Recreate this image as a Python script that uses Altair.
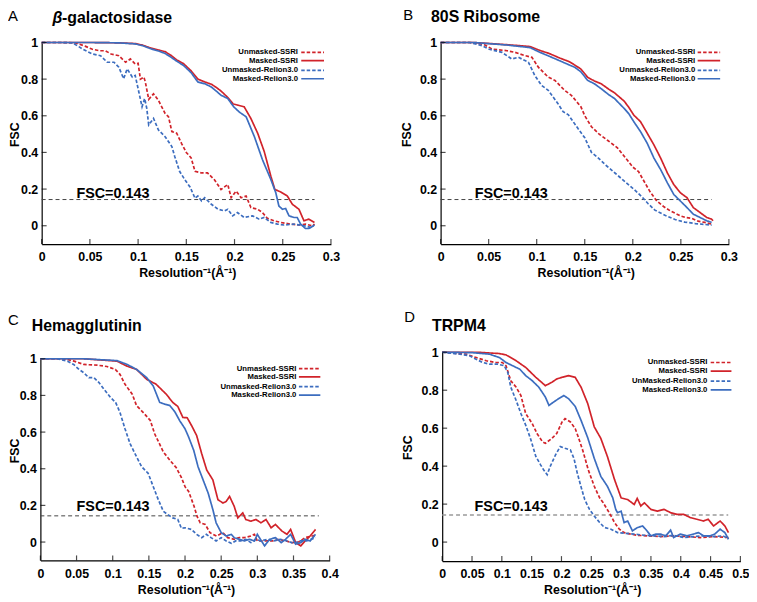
import altair as alt
import pandas as pd

FONT = "Liberation Sans"
SERIES = ["Unmasked-SSRI", "Masked-SSRI", "Unmasked-Relion3.0", "Masked-Relion3.0"]
RED = "#d1232a"
BLUE = "#3c6dbf"
SERIES_COLORS = [RED, RED, BLUE, BLUE]
SERIES_DASH = [[3.5, 2], [1, 0], [3.5, 2], [1, 0]]

Y_TICKS = [0, 0.2, 0.4, 0.6, 0.8, 1]
X_TICKS_03 = [0, 0.05, 0.1, 0.15, 0.2, 0.25, 0.3]
X_TICKS_04 = [0, 0.05, 0.1, 0.15, 0.2, 0.25, 0.3, 0.35, 0.4]
X_TICKS_05 = [0, 0.05, 0.1, 0.15, 0.2, 0.25, 0.3, 0.35, 0.4, 0.45, 0.5]

LEGEND_A = ["Unmasked-SSRI", "Masked-SSRI", "Unmasked-Relion3.0", "Masked-Relion3.0"]
LEGEND_D = ["Unmasked-SSRI", "Masked-SSRI", "UnMasked-Relion3.0", "Masked-Relion3.0"]

# ---------------- Panel A: beta-galactosidase ----------------
A_unm_ssri = [(0, 1.0), (0.02, 1.0), (0.035, 0.998), (0.045, 0.98), (0.052, 0.964), (0.060, 0.955),
              (0.066, 0.955), (0.072, 0.937), (0.080, 0.928), (0.087, 0.892), (0.092, 0.91), (0.097, 0.883),
              (0.100, 0.886), (0.1024, 0.80), (0.106, 0.811), (0.1075, 0.784), (0.111, 0.69), (0.116, 0.72),
              (0.121, 0.685), (0.128, 0.613), (0.1315, 0.595), (0.135, 0.514), (0.140, 0.505), (0.145, 0.45),
              (0.150, 0.40), (0.155, 0.37), (0.159, 0.297), (0.166, 0.288), (0.172, 0.288), (0.179, 0.252),
              (0.186, 0.198), (0.193, 0.225), (0.1965, 0.153), (0.2016, 0.189), (0.2068, 0.153), (0.212, 0.162),
              (0.217, 0.099), (0.224, 0.09), (0.229, 0.072), (0.234, 0.04), (0.241, 0.027), (0.248, 0.018),
              (0.258, 0.009), (0.267, 0.004), (0.2736, 0.009), (0.2805, 0.0), (0.283, 0.009)]
A_m_ssri = [(0, 1.0), (0.05, 1.0), (0.08, 0.998), (0.097, 0.994), (0.105, 0.985), (0.114, 0.968),
            (0.122, 0.958), (0.128, 0.95), (0.134, 0.93), (0.140, 0.905), (0.147, 0.885), (0.155, 0.845),
            (0.162, 0.80), (0.169, 0.785), (0.176, 0.772), (0.181, 0.755), (0.186, 0.735), (0.193, 0.70),
            (0.1985, 0.665), (0.2034, 0.658), (0.210, 0.649), (0.217, 0.585), (0.224, 0.505), (0.2308, 0.405),
            (0.2377, 0.27), (0.2418, 0.198), (0.248, 0.184), (0.2548, 0.162), (0.260, 0.117), (0.2668, 0.09),
            (0.272, 0.027), (0.277, 0.036), (0.2829, 0.018)]
A_unm_relion = [(0, 1.0), (0.02, 1.0), (0.032, 0.998), (0.0425, 0.964), (0.0527, 0.937), (0.061, 0.928),
                (0.068, 0.892), (0.075, 0.892), (0.080, 0.865), (0.085, 0.802), (0.0887, 0.856), (0.094, 0.811),
                (0.097, 0.82), (0.100, 0.748), (0.1041, 0.649), (0.1068, 0.694), (0.109, 0.64), (0.111, 0.55),
                (0.116, 0.586), (0.121, 0.523), (0.128, 0.486), (0.135, 0.432), (0.138, 0.378), (0.143, 0.297),
                (0.1486, 0.25), (0.154, 0.21), (0.159, 0.15), (0.162, 0.162), (0.1658, 0.135), (0.169, 0.153),
                (0.176, 0.117), (0.183, 0.09), (0.1897, 0.081), (0.193, 0.09), (0.198, 0.054), (0.203, 0.072),
                (0.210, 0.045), (0.2188, 0.054), (0.2255, 0.036), (0.2307, 0.045), (0.2376, 0.018), (0.2445, 0.009),
                (0.2513, 0.004), (0.2616, 0.009), (0.272, 0.0), (0.279, -0.009), (0.283, 0.004)]
A_m_relion = [(0, 1.0), (0.05, 1.0), (0.08, 0.998), (0.097, 0.992), (0.105, 0.982), (0.114, 0.964),
              (0.122, 0.952), (0.128, 0.94), (0.134, 0.92), (0.140, 0.898), (0.147, 0.875), (0.155, 0.835),
              (0.162, 0.784), (0.169, 0.775), (0.176, 0.757), (0.181, 0.735), (0.186, 0.712), (0.193, 0.694),
              (0.199, 0.65), (0.205, 0.62), (0.212, 0.595), (0.2206, 0.486), (0.229, 0.36), (0.2377, 0.252),
              (0.2428, 0.18), (0.246, 0.108), (0.2497, 0.09), (0.253, 0.094), (0.2565, 0.054), (0.2617, 0.045),
              (0.265, 0.045), (0.2685, 0.009), (0.2736, -0.015), (0.277, -0.015), (0.282, 0.0)]

# ---------------- Panel B: 80S Ribosome ----------------
B_unm_ssri = [(0, 1.0), (0.03, 1.0), (0.045, 0.99), (0.0536, 0.964), (0.069, 0.955), (0.0776, 0.946),
              (0.088, 0.928), (0.095, 0.919), (0.1017, 0.865), (0.112, 0.811), (0.119, 0.793), (0.129, 0.739),
              (0.136, 0.712), (0.146, 0.649), (0.150, 0.60), (0.157, 0.54), (0.165, 0.50), (0.174, 0.465),
              (0.184, 0.425), (0.194, 0.36), (0.200, 0.32), (0.206, 0.295), (0.212, 0.24), (0.218, 0.185),
              (0.225, 0.135), (0.232, 0.105), (0.239, 0.081), (0.2495, 0.054), (0.255, 0.045), (0.261, 0.041),
              (0.268, 0.025), (0.275, 0.018), (0.282, 0.009)]
B_m_ssri = [(0, 1.0), (0.034, 1.0), (0.069, 0.988), (0.093, 0.978), (0.103, 0.957), (0.113, 0.94),
            (0.124, 0.915), (0.134, 0.895), (0.1395, 0.877), (0.146, 0.855), (0.153, 0.81), (0.160, 0.79),
            (0.167, 0.775), (0.175, 0.745), (0.181, 0.725), (0.191, 0.68), (0.196, 0.645), (0.201, 0.604),
            (0.208, 0.568), (0.215, 0.505), (0.222, 0.441), (0.229, 0.369), (0.236, 0.288), (0.2426, 0.225),
            (0.2495, 0.18), (0.2564, 0.153), (0.263, 0.099), (0.270, 0.072), (0.277, 0.045), (0.282, 0.036),
            (0.2835, 0.027)]
B_unm_relion = [(0, 1.0), (0.03, 1.0), (0.0433, 0.982), (0.050, 0.964), (0.0639, 0.946), (0.074, 0.91),
                (0.081, 0.919), (0.0914, 0.892), (0.098, 0.82), (0.105, 0.766), (0.112, 0.739), (0.122, 0.667),
                (0.1275, 0.622), (0.133, 0.605), (0.143, 0.53), (0.150, 0.48), (0.157, 0.40), (0.163, 0.375),
                (0.172, 0.33), (0.182, 0.285), (0.192, 0.24), (0.203, 0.19), (0.210, 0.155), (0.216, 0.12),
                (0.223, 0.085), (0.234, 0.056), (0.244, 0.034), (0.254, 0.02), (0.265, 0.012), (0.275, 0.007),
                (0.282, 0.003)]
B_m_relion = [(0, 1.0), (0.034, 1.0), (0.069, 0.986), (0.093, 0.972), (0.103, 0.947), (0.113, 0.925),
              (0.124, 0.9), (0.134, 0.877), (0.1395, 0.865), (0.146, 0.84), (0.153, 0.793), (0.160, 0.775),
              (0.167, 0.748), (0.175, 0.715), (0.181, 0.694), (0.191, 0.64), (0.196, 0.61), (0.201, 0.568),
              (0.208, 0.514), (0.215, 0.45), (0.222, 0.369), (0.229, 0.306), (0.236, 0.234), (0.2426, 0.171),
              (0.2495, 0.135), (0.2564, 0.099), (0.263, 0.063), (0.270, 0.045), (0.277, 0.027), (0.282, 0.018)]

# ---------------- Panel C: Hemagglutinin ----------------
C_unm_ssri = [(0, 1.0), (0.03, 1.0), (0.0374, 0.996), (0.0466, 0.987), (0.060, 0.969), (0.0785, 0.965),
              (0.092, 0.958), (0.1036, 0.942), (0.110, 0.915), (0.117, 0.861), (0.127, 0.807), (0.133, 0.744),
              (0.142, 0.708), (0.152, 0.663), (0.158, 0.591), (0.170, 0.492), (0.179, 0.447), (0.188, 0.405),
              (0.195, 0.352), (0.200, 0.302), (0.205, 0.276), (0.2125, 0.195), (0.2166, 0.141), (0.221, 0.105),
              (0.228, 0.096), (0.2345, 0.051), (0.2435, 0.033), (0.2525, 0.051), (0.259, 0.024), (0.268, 0.015),
              (0.275, 0.024), (0.282, 0.024), (0.291, 0.033), (0.296, 0.042), (0.300, 0.006), (0.313, 0.006),
              (0.322, 0.006), (0.330, 0.015), (0.339, 0.006), (0.348, -0.003), (0.357, 0.0), (0.366, 0.024),
              (0.3805, 0.037)]
C_m_ssri = [(0, 1.0), (0.06, 1.0), (0.106, 0.987), (0.1196, 0.96), (0.133, 0.942), (0.147, 0.888),
            (0.160, 0.861), (0.174, 0.807), (0.183, 0.762), (0.190, 0.74), (0.197, 0.68), (0.203, 0.678),
            (0.209, 0.636), (0.216, 0.582), (0.223, 0.483), (0.230, 0.393), (0.2385, 0.339), (0.2455, 0.231),
            (0.2525, 0.213), (0.257, 0.222), (0.2616, 0.249), (0.268, 0.195), (0.273, 0.132), (0.2799, 0.159),
            (0.284, 0.123), (0.291, 0.114), (0.298, 0.123), (0.305, 0.105), (0.312, 0.123), (0.319, 0.078),
            (0.325, 0.096), (0.334, 0.06), (0.341, 0.042), (0.346, 0.069), (0.353, -0.003), (0.360, -0.021),
            (0.366, 0.006), (0.373, 0.033), (0.3805, 0.069)]
C_unm_relion = [(0, 1.0), (0.024, 1.0), (0.0374, 0.987), (0.046, 0.969), (0.0534, 0.942), (0.060, 0.924),
                (0.067, 0.897), (0.074, 0.897), (0.081, 0.87), (0.088, 0.834), (0.097, 0.789), (0.104, 0.762),
                (0.110, 0.708), (0.117, 0.618), (0.124, 0.537), (0.133, 0.465), (0.140, 0.411), (0.149, 0.375),
                (0.156, 0.303), (0.163, 0.231), (0.170, 0.168), (0.176, 0.15), (0.183, 0.132), (0.190, 0.123),
                (0.195, 0.075), (0.200, 0.078), (0.209, 0.069), (0.216, 0.042), (0.223, 0.024), (0.2295, 0.042),
                (0.236, 0.024), (0.243, 0.006), (0.250, 0.024), (0.257, 0.006), (0.264, -0.007), (0.270, 0.006),
                (0.277, 0.006), (0.284, 0.015), (0.291, -0.003), (0.298, 0.015), (0.305, 0.006), (0.314, 0.015),
                (0.322, 0.006), (0.332, 0.015), (0.341, 0.006), (0.350, -0.007), (0.359, 0.006), (0.368, 0.006),
                (0.3805, 0.024)]
C_m_relion = [(0, 1.0), (0.06, 1.0), (0.106, 0.99), (0.120, 0.969), (0.133, 0.942), (0.147, 0.897),
              (0.156, 0.852), (0.165, 0.762), (0.172, 0.752), (0.179, 0.745), (0.186, 0.71), (0.193, 0.66),
              (0.200, 0.618), (0.205, 0.573), (0.212, 0.501), (0.218, 0.411), (0.225, 0.339), (0.232, 0.267),
              (0.2385, 0.177), (0.243, 0.105), (0.250, 0.051), (0.257, 0.033), (0.264, 0.042), (0.268, 0.024),
              (0.275, 0.015), (0.282, 0.006), (0.289, 0.015), (0.296, 0.006), (0.300, 0.042), (0.310, -0.021),
              (0.317, 0.015), (0.325, 0.024), (0.333, -0.003), (0.339, 0.015), (0.346, 0.042), (0.353, -0.012),
              (0.360, -0.003), (0.366, 0.015), (0.373, 0.006), (0.3805, 0.042)]

# ---------------- Panel D: TRPM4 ----------------
D_unm_ssri = [(0, 1.0), (0.04, 0.99), (0.057, 0.972), (0.074, 0.955), (0.090, 0.946), (0.101, 0.946),
              (0.107, 0.929), (0.115, 0.85), (0.124, 0.816), (0.132, 0.772), (0.140, 0.677), (0.151, 0.624),
              (0.159, 0.572), (0.168, 0.529), (0.173, 0.52), (0.184, 0.546), (0.192, 0.572), (0.201, 0.633),
              (0.206, 0.65), (0.215, 0.633), (0.223, 0.598), (0.228, 0.555), (0.236, 0.48), (0.245, 0.38),
              (0.255, 0.294), (0.264, 0.233), (0.270, 0.207), (0.280, 0.155), (0.289, 0.103), (0.297, 0.068),
              (0.305, 0.05), (0.316, 0.042), (0.327, 0.036), (0.344, 0.033), (0.366, 0.029), (0.388, 0.033),
              (0.410, 0.029), (0.433, 0.024), (0.455, 0.029), (0.480, 0.024)]
D_m_ssri = [(0, 1.0), (0.06, 1.0), (0.096, 0.993), (0.107, 0.986), (0.124, 0.955), (0.140, 0.92),
            (0.157, 0.868), (0.173, 0.824), (0.184, 0.842), (0.192, 0.859), (0.201, 0.868), (0.212, 0.877),
            (0.223, 0.868), (0.233, 0.815), (0.244, 0.73), (0.255, 0.607), (0.266, 0.546), (0.277, 0.451),
            (0.289, 0.329), (0.300, 0.233), (0.311, 0.224), (0.322, 0.198), (0.327, 0.23), (0.333, 0.19),
            (0.339, 0.207), (0.350, 0.172), (0.361, 0.163), (0.372, 0.172), (0.383, 0.155), (0.394, 0.146),
            (0.405, 0.146), (0.416, 0.129), (0.427, 0.12), (0.438, 0.111), (0.446, 0.12), (0.455, 0.085),
            (0.466, 0.111), (0.474, 0.085), (0.480, 0.05)]
D_unm_relion = [(0, 1.0), (0.0294, 0.99), (0.046, 0.981), (0.057, 0.963), (0.068, 0.946), (0.079, 0.937),
                (0.093, 0.937), (0.104, 0.929), (0.110, 0.894), (0.115, 0.816), (0.124, 0.746), (0.132, 0.677),
                (0.140, 0.616), (0.148, 0.546), (0.157, 0.451), (0.165, 0.407), (0.170, 0.381), (0.176, 0.355),
                (0.181, 0.398), (0.190, 0.459), (0.198, 0.503), (0.206, 0.494), (0.215, 0.485), (0.221, 0.44),
                (0.226, 0.37), (0.232, 0.30), (0.239, 0.224), (0.247, 0.172), (0.255, 0.137), (0.264, 0.103),
                (0.272, 0.077), (0.283, 0.068), (0.294, 0.05), (0.305, 0.047), (0.322, 0.042), (0.339, 0.036),
                (0.355, 0.033), (0.372, 0.029), (0.388, 0.036), (0.405, 0.024), (0.421, 0.029), (0.438, 0.033),
                (0.455, 0.029), (0.471, 0.033), (0.480, 0.016)]
D_m_relion = [(0, 1.0), (0.05, 0.998), (0.079, 0.99), (0.096, 0.972), (0.107, 0.946), (0.118, 0.929),
              (0.130, 0.911), (0.140, 0.877), (0.151, 0.85), (0.162, 0.816), (0.173, 0.764), (0.179, 0.72),
              (0.187, 0.738), (0.195, 0.755), (0.204, 0.772), (0.212, 0.755), (0.223, 0.715), (0.233, 0.64),
              (0.244, 0.55), (0.255, 0.441), (0.266, 0.346), (0.277, 0.294), (0.286, 0.233), (0.291, 0.172),
              (0.294, 0.155), (0.300, 0.163), (0.305, 0.103), (0.311, 0.111), (0.319, 0.059), (0.327, 0.076),
              (0.336, 0.085), (0.341, 0.068), (0.350, 0.033), (0.358, 0.042), (0.366, 0.042), (0.375, 0.033),
              (0.383, 0.063), (0.388, 0.024), (0.399, 0.042), (0.410, 0.033), (0.421, 0.042), (0.430, 0.05),
              (0.438, 0.033), (0.449, 0.033), (0.457, 0.042), (0.466, 0.068), (0.474, 0.05), (0.480, 0.016)]

FSC_THRESHOLD = 0.143

# ---------------- layout (pixels / style) ----------------
W, H = 748, 592
PANELS = [
    dict(letter="A", title="-galactosidase", beta=True, xdom=[0, 0.3], xticks=X_TICKS_03,
         xr=[34, 326], yr=[235.5, 32], curves=[A_unm_ssri, A_m_ssri, A_unm_relion, A_m_relion],
         ref_end=0.283, ref_color="#444444", ref_w=1.0, lab_xy=(0.036, 0.151),
         leg_labels=LEGEND_A, leg_tx=0.2658, leg_l=(0.2692, 0.2928),
         letter_xy=(0, 10.5), title_xy=(45, 12.5), ytitle_dx=-23.5),
    dict(letter="B", title="80S Ribosome", beta=False, xdom=[0, 0.3], xticks=X_TICKS_03,
         xr=[436.7, 727.7], yr=[235.5, 32], curves=[B_unm_ssri, B_m_ssri, B_unm_relion, B_m_relion],
         ref_end=0.282, ref_color="#444444", ref_w=1.0, lab_xy=(0.0354, 0.151),
         leg_labels=LEGEND_A, leg_tx=0.265, leg_l=(0.2675, 0.2909),
         letter_xy=(399, 9.5), title_xy=(427, 11.5), ytitle_dx=-30.5),
    dict(letter="C", title="Hemagglutinin", beta=False, xdom=[0, 0.4], xticks=X_TICKS_04,
         xr=[32.7, 324.7], yr=[554.8, 351.3], curves=[C_unm_ssri, C_m_ssri, C_unm_relion, C_m_relion],
         ref_end=0.385, ref_color="#444444", ref_w=1.0, lab_xy=(0.050, 0.168),
         leg_labels=LEGEND_A, leg_tx=0.354, leg_l=(0.3575, 0.3871),
         letter_xy=(0, 317), title_xy=(24, 323.7), ytitle_dx=-22.5),
    dict(letter="D", title="TRPM4", beta=False, xdom=[0, 0.5], xticks=X_TICKS_05,
         xr=[438.3, 739.3], yr=[555.5, 344.7], curves=[D_unm_ssri, D_m_ssri, D_unm_relion, D_m_relion],
         ref_end=0.4796, ref_color="#9a9a9a", ref_w=1.5, lab_xy=(0.0543, 0.163),
         leg_labels=LEGEND_D, leg_tx=0.4447, leg_l=(0.4502, 0.4850),
         letter_xy=(400, 313.7), title_xy=(428, 323.7), ytitle_dx=-30.5),
]
LEGEND_ROWS = [0.946, 0.901, 0.848, 0.802]

color_enc = alt.Color("series:N", scale=alt.Scale(domain=SERIES, range=SERIES_COLORS), legend=None)
dash_enc = alt.StrokeDash("series:N", scale=alt.Scale(domain=SERIES, range=SERIES_DASH), legend=None)


def text_layer(txt, x, y, size, weight="bold", style="normal"):
    return alt.Chart(pd.DataFrame({"t": [txt]})).mark_text(
        align="left", baseline="alphabetic", font=FONT, fontSize=size,
        fontWeight=weight, fontStyle=style, color="black"
    ).encode(text="t:N", x=alt.value(x), y=alt.value(y))


def panel_layers(p):
    xs = alt.Scale(domain=p["xdom"], range=p["xr"], nice=False, zero=False)
    ys = alt.Scale(domain=[-0.1, 1.0], range=p["yr"], nice=False, zero=False)

    def X(f, axis=None):
        return alt.X(f, scale=xs, axis=axis)

    def Y(f, axis=None):
        return alt.Y(f, scale=ys, axis=axis)

    rows = []
    for name, pts in zip(SERIES, p["curves"]):
        for x, y in pts:
            rows.append({"x": x, "y": y, "series": name})
    df = pd.DataFrame(rows)

    y_mid = p["yr"][0] - (0.6 / 1.1) * (p["yr"][0] - p["yr"][1])
    x_axis = alt.Axis(
        orient="bottom", offset=p["yr"][0] - H, values=p["xticks"], format="~g",
        ticks=False, tickSize=0, grid=False, domainColor="black", domainWidth=1.2,
        labelFont=FONT, labelFontSize=12.5, labelFontWeight="bold", labelColor="black",
        labelPadding=7, labelFlush=False, labelOverlap=False,
        title="Resolution⁻¹(Å⁻¹)", titleFont=FONT, titleFontSize=12.5, titleFontWeight="bold",
        titleColor="black", titleX=(p["xr"][0] + p["xr"][1]) / 2 + 1, titleY=33,
        titleBaseline="alphabetic", titleAlign="center",
    )
    y_axis = alt.Axis(
        orient="left", offset=-p["xr"][0], values=Y_TICKS, format="~g",
        ticks=False, tickSize=0, grid=False, domainColor="black", domainWidth=1.2,
        labelFont=FONT, labelFontSize=12.5, labelFontWeight="bold", labelColor="black",
        labelPadding=4, labelFlush=False, labelOverlap=False,
        title="FSC", titleFont=FONT, titleFontSize=12.5, titleFontWeight="bold",
        titleColor="black", titleX=p["ytitle_dx"], titleY=y_mid, titleAngle=270,
        titleBaseline="alphabetic", titleAlign="center",
    )

    lines = alt.Chart(df).mark_line(strokeWidth=1.7).encode(
        x=X("x:Q", x_axis), y=Y("y:Q", y_axis), color=color_enc, strokeDash=dash_enc
    )

    ref_df = pd.DataFrame({"x0": [0.0], "x1": [p["ref_end"]], "y": [FSC_THRESHOLD]})
    ref = alt.Chart(ref_df).mark_rule(
        color=p["ref_color"], strokeWidth=p["ref_w"], strokeDash=[4, 3]
    ).encode(x=X("x0:Q"), x2="x1:Q", y=Y("y:Q"))

    lab_df = pd.DataFrame({"x": [p["lab_xy"][0]], "y": [p["lab_xy"][1]], "t": ["FSC=0.143"]})
    lab = alt.Chart(lab_df).mark_text(
        align="left", baseline="alphabetic", font=FONT, fontSize=14.5, fontWeight="bold", color="black"
    ).encode(x=X("x:Q"), y=Y("y:Q"), text="t:N")

    xt_df = pd.DataFrame({"x": p["xticks"], "y": [-0.1] * len(p["xticks"])})
    xticks = alt.Chart(xt_df).mark_tick(
        orient="vertical", size=5, thickness=1.2, yOffset=-2.5, color="black"
    ).encode(x=X("x:Q"), y=Y("y:Q"))
    yt_df = pd.DataFrame({"x": [0.0] * len(Y_TICKS), "y": Y_TICKS})
    yticks = alt.Chart(yt_df).mark_tick(
        orient="horizontal", size=5, thickness=1.2, xOffset=2.5, color="black"
    ).encode(x=X("x:Q"), y=Y("y:Q"))

    leg_df = pd.DataFrame({
        "series": SERIES, "label": p["leg_labels"], "y": LEGEND_ROWS,
        "xt": [p["leg_tx"]] * 4, "x0": [p["leg_l"][0]] * 4, "x1": [p["leg_l"][1]] * 4,
    })
    leg_text = alt.Chart(leg_df).mark_text(
        align="right", baseline="middle", font=FONT, fontSize=7.8, fontWeight="bold", color="black"
    ).encode(x=X("xt:Q"), y=Y("y:Q"), text="label:N")
    leg_lines = alt.Chart(leg_df).mark_rule(strokeWidth=1.7).encode(
        x=X("x0:Q"), x2="x1:Q", y=Y("y:Q"), color=color_enc, strokeDash=dash_enc
    )

    layers = [ref, lines, xticks, yticks, lab, leg_text, leg_lines,
              text_layer(p["letter"], p["letter_xy"][0], p["letter_xy"][1], 15, weight="normal")]
    tx, ty = p["title_xy"]
    if p["beta"]:
        layers.append(text_layer("β", tx, ty, 16, style="italic"))
        layers.append(text_layer(p["title"], tx + 9.5, ty, 16))
    else:
        layers.append(text_layer(p["title"], tx, ty, 16))
    return layers


all_layers = []
for p in PANELS:
    all_layers.extend(panel_layers(p))

chart = alt.layer(*all_layers).resolve_scale(
    x="independent", y="independent"
).properties(
    width=W, height=H, padding=0, autosize=alt.AutoSizeParams(type="none")
).configure_view(strokeWidth=0)

chart.save("out.html", embed_options={"renderer": "svg", "actions": False})
